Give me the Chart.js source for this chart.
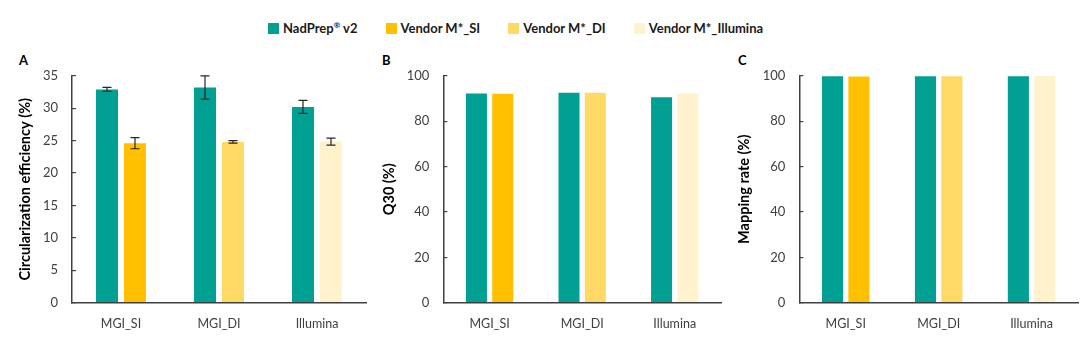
<!DOCTYPE html>
<html>
<head>
<meta charset="utf-8">
<script src="https://cdn.jsdelivr.net/npm/chart.js@4.4.0/dist/chart.umd.min.js"></script>
<style>
  html, body { margin: 0; padding: 0; background: #ffffff; }
  body { width: 1080px; height: 351px; position: relative; overflow: hidden; font-family: Lato, "Noto Sans", sans-serif; }
  .panel { position: absolute; top: 50px; height: 290px; }
  .letter { position: absolute; font: bold 13px Lato, sans-serif; color: #000; }
  #legend { position: absolute; left: 268px; top: 20px; display: flex; align-items: center; gap: 28px; font: bold 13px Lato, sans-serif; color: #1a1a1a; }
  .item { display: flex; align-items: center; gap: 4px; white-space: nowrap; }
  .sw { width: 11px; height: 11px; display: inline-block; }
  sup { font-size: 8px; }
</style>
</head>
<body>
<div id="legend"></div>
<div class="letter" style="left:19px;top:52px;">A</div>
<div class="letter" style="left:382px;top:52px;">B</div>
<div class="letter" style="left:738px;top:52px;">C</div>
<div class="panel" style="left:0px;width:370px;"><canvas id="cA"></canvas></div>
<div class="panel" style="left:370px;width:355px;"><canvas id="cB"></canvas></div>
<div class="panel" style="left:725px;width:355px;"><canvas id="cC"></canvas></div>
<script>
// ---- data ----
const categories = ['MGI_SI', 'MGI_DI', 'Illumina'];
const seriesNames = ['NadPrep® v2', 'Vendor M*_SI', 'Vendor M*_DI', 'Vendor M*_Illumina'];
const seriesColors = ['#00A092', '#FFC000', '#FFD966', '#FFF2CC'];

// Panel A: circularization efficiency (%)
const circNadPrep = [32.9, 33.2, 30.2];
const circNadPrepErr = [0.3, 1.8, 1.0];
const circVendorSI = [24.6, null, null];
const circVendorSIErr = [0.85, null, null];
const circVendorDI = [null, 24.8, null];
const circVendorDIErr = [null, 0.2, null];
const circVendorIllumina = [null, null, 24.85];
const circVendorIlluminaErr = [null, null, 0.55];

// Panel B: Q30 (%)
const q30NadPrep = [92.2, 92.5, 90.6];
const q30VendorSI = [92.1, null, null];
const q30VendorDI = [null, 92.5, null];
const q30VendorIllumina = [null, null, 92.2];

// Panel C: mapping rate (%)
const mapNadPrep = [99.8, 99.8, 99.8];
const mapVendorSI = [99.7, null, null];
const mapVendorDI = [null, 99.8, null];
const mapVendorIllumina = [null, null, 99.9];

const yTicksA = [0, 5, 10, 15, 20, 25, 30, 35];
const yTicksBC = [0, 20, 40, 60, 80, 100];

// ---- legend ----
const legend = document.getElementById('legend');
seriesNames.forEach((n, i) => {
  const it = document.createElement('div');
  it.className = 'item';
  const sw = document.createElement('span');
  sw.className = 'sw';
  sw.style.background = seriesColors[i];
  const tx = document.createElement('span');
  tx.innerHTML = n.replace('®', '<sup>®</sup>');
  it.appendChild(sw); it.appendChild(tx);
  legend.appendChild(it);
});

// ---- error bar plugin ----
const errorBars = {
  id: 'errorBars',
  afterDatasetsDraw(chart) {
    const ctx = chart.ctx;
    const y = chart.scales.y;
    chart.data.datasets.forEach((ds, i) => {
      if (!ds.errors) return;
      const meta = chart.getDatasetMeta(i);
      meta.data.forEach((el, j) => {
        const v = ds.data[j], e = ds.errors[j];
        if (v == null || e == null) return;
        const x = el.x;
        const yt = y.getPixelForValue(v + e), yb = y.getPixelForValue(v - e);
        ctx.save();
        ctx.strokeStyle = '#262626';
        ctx.lineWidth = 1.2;
        ctx.beginPath();
        ctx.moveTo(x, yt); ctx.lineTo(x, yb);
        ctx.moveTo(x - 4.5, yt); ctx.lineTo(x + 4.5, yt);
        ctx.moveTo(x - 4.5, yb); ctx.lineTo(x + 4.5, yb);
        ctx.stroke();
        ctx.restore();
      });
    });
  }
};

function makeChart(id, sets, errs, ticks, title, yWidth, padRight, titlePad, catPct, barPct) {
  const datasets = sets.map((d, i) => ({
    label: seriesNames[i],
    data: d,
    errors: errs ? errs[i] : null,
    backgroundColor: seriesColors[i],
    borderWidth: 0,
    categoryPercentage: catPct,
    barPercentage: barPct
  }));
  return new Chart(document.getElementById(id), {
    type: 'bar',
    data: { labels: categories, datasets },
    plugins: [errorBars],
    options: {
      responsive: true,
      maintainAspectRatio: false,
      animation: false,
      skipNull: true,
      layout: { padding: { top: 24.3, right: padRight, bottom: 0, left: 0 } },
      plugins: { legend: { display: false }, tooltip: { enabled: false } },
      scales: {
        x: {
          grid: { display: false },
          border: { display: true, color: '#404040', width: 1.5 },
          ticks: { color: '#404040', font: { family: 'Lato', size: 12.5 }, padding: 6 },
          afterFit(s) { s.height = 37.3; }
        },
        y: {
          min: 0,
          max: ticks[ticks.length - 1],
          afterBuildTicks(s) { s.ticks = ticks.map(v => ({ value: v })); },
          grid: { drawOnChartArea: false, drawTicks: true, tickLength: -4, color: '#404040', lineWidth: 1.2 },
          border: { display: true, color: '#404040', width: 1.5 },
          ticks: { color: '#404040', font: { family: 'Lato', size: 13 }, padding: 18 },
          title: { display: true, text: title, color: '#000', font: { family: 'Lato', size: 14.5, weight: 'bold' }, padding: { top: titlePad, bottom: 0 } },
          afterFit(s) { s.width = yWidth; }
        }
      }
    }
  });
}

makeChart('cA',
  [circNadPrep, circVendorSI, circVendorDI, circVendorIllumina],
  [circNadPrepErr, circVendorSIErr, circVendorDIErr, circVendorIlluminaErr],
  yTicksA, 'Circularization efficiency (%)', 72, 4, 17, 0.571, 0.786);
makeChart('cB',
  [q30NadPrep, q30VendorSI, q30VendorDI, q30VendorIllumina],
  null, yTicksBC, 'Q30 (%)', 73.3, 4, 11, 0.568, 0.8);
makeChart('cC',
  [mapNadPrep, mapVendorSI, mapVendorDI, mapVendorIllumina],
  null, yTicksBC, 'Mapping rate (%)', 74.3, 2, 11, 0.568, 0.8);
</script>
</body>
</html>
